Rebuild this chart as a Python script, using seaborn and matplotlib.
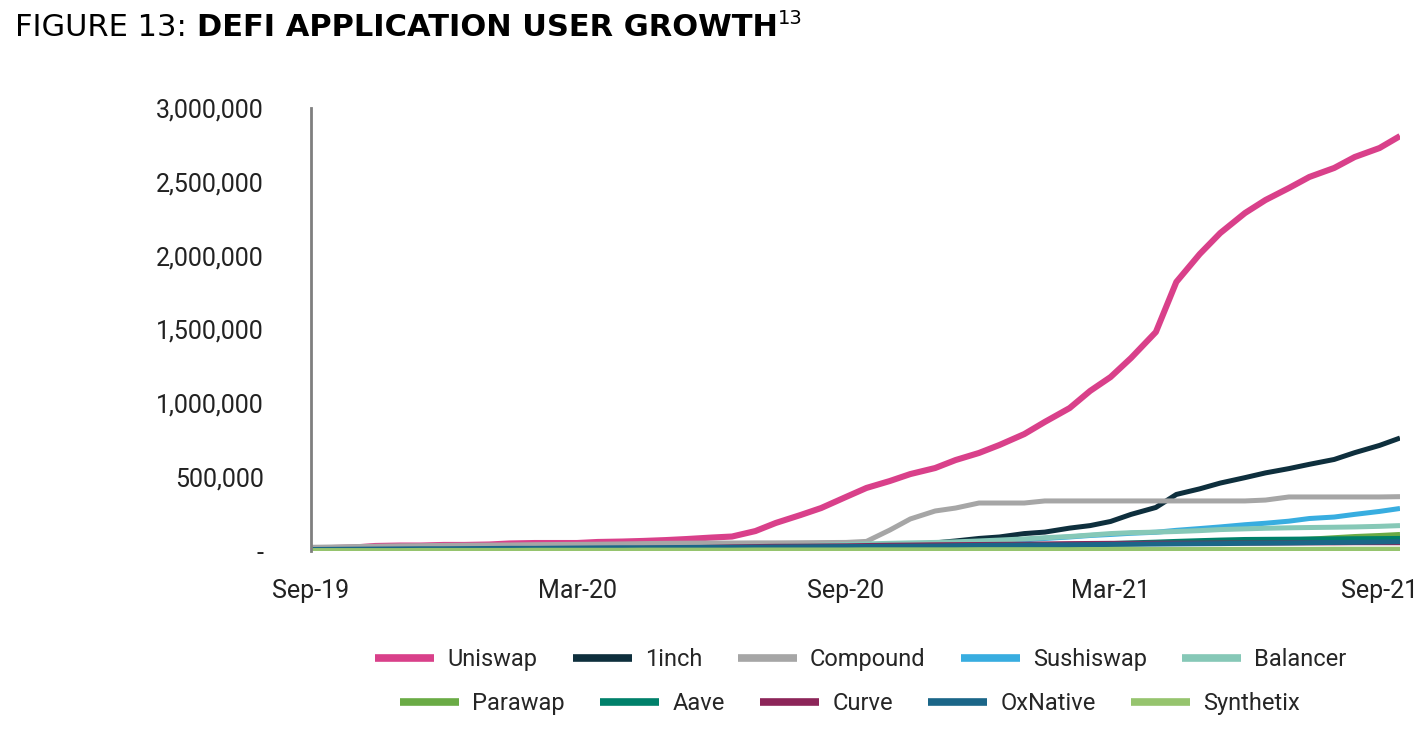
import matplotlib
matplotlib.use("Agg")
import matplotlib.pyplot as plt
import matplotlib.dates as mdates
from matplotlib.lines import Line2D
from matplotlib.ticker import FuncFormatter
import seaborn as sns
import pandas as pd

# ---------------- data ----------------
dates = pd.date_range("2019-09-01", "2021-09-15", freq="SMS")  # 1st and 15th of each month

uniswap = [20000, 20000, 24000, 34000, 37000, 37000, 41000, 41000, 44000, 51000,
           54000, 54000, 54000, 61000, 64000, 68000, 74000, 81000, 91000, 98000,
           135000, 190000, 244000, 291000, 366000, 427000, 474000, 521000, 562000, 616000,
           664000, 718000, 792000, 874000, 968000, 1084000, 1178000, 1307000, 1483000, 1822000,
           2011000, 2153000, 2289000, 2377000, 2458000, 2533000, 2594000, 2668000, 2729000, 2810000]
oneinch = [0, 0, 0, 0, 0, 0, 0, 0, 0, 0,
           0, 0, 0, 0, 0, 0, 0, 0, 0, 0,
           5000, 8000, 10000, 15000, 20000, 25000, 30000, 40000, 55000, 68000,
           85000, 95000, 118000, 128000, 155000, 172000, 200000, 248000, 295000, 383000,
           421000, 460000, 497000, 529000, 558000, 587000, 620000, 666000, 715000, 765000]
compound = [25000, 27000, 30000, 32000, 35000, 36000, 38000, 39000, 40000, 41000,
            43000, 44000, 45000, 46000, 48000, 50000, 52000, 53000, 54000, 54000,
            55000, 55000, 56000, 57000, 58000, 65000, 142000, 217000, 271000, 291000,
            325000, 325000, 325000, 339000, 339000, 339000, 339000, 339000, 339000, 339000,
            339000, 339000, 339000, 345000, 366000, 366000, 366000, 366000, 366000, 368000]
sushiswap = [0, 0, 0, 0, 0, 0, 0, 0, 0, 0,
             0, 0, 0, 0, 0, 0, 0, 0, 0, 0,
             0, 0, 0, 0, 0, 15000, 30000, 40000, 48000, 55000,
             62000, 68000, 75000, 85000, 95000, 105000, 112000, 120000, 127000, 140000,
             152000, 163000, 178000, 188000, 202000, 220000, 230000, 248000, 268000, 288000]
balancer = [0, 0, 0, 0, 0, 0, 0, 0, 0, 0,
            0, 0, 0, 2000, 5000, 8000, 12000, 16000, 20000, 24000,
            28000, 32000, 36000, 40000, 44000, 48000, 52000, 55000, 58000, 62000,
            68000, 74000, 82000, 90000, 98000, 108000, 118000, 124000, 128000, 132000,
            138000, 145000, 150000, 154000, 157000, 159000, 161000, 163000, 167000, 172000]
parawap = [0, 0, 0, 0, 0, 0, 0, 0, 0, 0,
           0, 0, 0, 0, 0, 0, 0, 0, 2000, 4000,
           6000, 8000, 10000, 12000, 14000, 16000, 18000, 20000, 22000, 24000,
           26000, 28000, 30000, 34000, 38000, 42000, 45000, 48000, 52000, 56000,
           60000, 64000, 68000, 72000, 75000, 80000, 90000, 98000, 105000, 112000]
aave = [5000, 5000, 6000, 6000, 7000, 7000, 8000, 8000, 9000, 9000,
        10000, 10000, 11000, 11000, 12000, 12000, 13000, 13000, 14000, 14000,
        15000, 15000, 16000, 16000, 17000, 18000, 19000, 20000, 22000, 24000,
        26000, 28000, 30000, 34000, 38000, 42000, 50000, 55000, 60000, 65000,
        70000, 74000, 78000, 79000, 80000, 81000, 82000, 83000, 84000, 85000]
curve = [2000, 2000, 3000, 3000, 4000, 4000, 5000, 5000, 6000, 6000,
         8000, 10000, 12000, 14000, 16000, 18000, 20000, 22000, 25000, 28000,
         30000, 32000, 33000, 34000, 35000, 37000, 39000, 40000, 42000, 43000,
         44000, 45000, 46000, 48000, 50000, 51000, 52000, 52000, 53000, 53000,
         53000, 54000, 54000, 54000, 55000, 55000, 55000, 56000, 56000, 56000]
oxnative = [10000, 11000, 12000, 13000, 14000, 15000, 15000, 16000, 17000, 18000,
            18000, 19000, 20000, 21000, 22000, 22000, 23000, 24000, 25000, 25000,
            26000, 27000, 28000, 29000, 30000, 31000, 32000, 33000, 34000, 36000,
            38000, 39000, 40000, 41000, 42000, 43000, 45000, 46000, 47000, 48000,
            49000, 50000, 52000, 53000, 54000, 56000, 58000, 59000, 61000, 63000]
synthetix = [3000, 3000, 3000, 3000, 3000, 4000, 4000, 4000, 4000, 4000,
             5000, 5000, 5000, 5000, 5000, 6000, 6000, 6000, 6000, 6000,
             7000, 7000, 7000, 7000, 7000, 8000, 8000, 8000, 8000, 8000,
             9000, 9000, 9000, 9000, 9000, 10000, 10000, 10000, 10000, 10000,
             10000, 11000, 11000, 11000, 11000, 11000, 12000, 12000, 12000, 12000]

apps = ["Uniswap", "1inch", "Compound", "Sushiswap", "Balancer",
        "Parawap", "Aave", "Curve", "OxNative", "Synthetix"]
colors = ["#d9408a", "#0e2f3d", "#a6a6a6", "#38ade0", "#86c8b7",
          "#6aab45", "#00806a", "#8c2559", "#1b6688", "#96c46e"]
yticks = [0, 500000, 1000000, 1500000, 2000000, 2500000, 3000000]
xticks = ["2019-09-01", "2020-03-01", "2020-09-01", "2021-03-01", "2021-09-01"]

series = [uniswap, oneinch, compound, sushiswap, balancer,
          parawap, aave, curve, oxnative, synthetix]
wide = pd.DataFrame({"date": dates})
for name, vals in zip(apps, series):
    wide[name] = vals
df = wide.melt(id_vars="date", var_name="app", value_name="users")

# ---------------- plotting ----------------
sns.set_theme(style="white")
plt.rcParams["font.family"] = ["Roboto", "DejaVu Sans"]

fig = plt.figure(figsize=(14.28, 7.42), dpi=100)
ax = fig.add_axes([311 / 1428, 1 - 551 / 742, (1400 - 311) / 1428, 443 / 742])

palette = dict(zip(apps, colors))
sns.lineplot(data=df, x="date", y="users", hue="app", hue_order=apps,
             palette=palette, linewidth=3.6, legend=False, ax=ax)
ax.lines[0].set_linewidth(4.4)
for ln in ax.lines:
    ln.set_solid_capstyle("butt")

ax.set_xlim(dates[0], dates[-1])
ax.set_ylim(0, 3000000)
ax.set_yticks(yticks)
ax.yaxis.set_major_formatter(FuncFormatter(lambda v, p: "-" if v == 0 else f"{v:,.0f}"))
ax.set_xticks(pd.to_datetime(xticks))
ax.xaxis.set_major_formatter(mdates.DateFormatter("%b-%y"))
ax.set_xlabel("")
ax.set_ylabel("")
ax.tick_params(axis="y", length=0, pad=34, labelsize=18, labelcolor="#222222")
ax.tick_params(axis="x", length=0, pad=20, labelsize=18, labelcolor="#222222")

for s in ["top", "right", "bottom"]:
    ax.spines[s].set_visible(False)
ax.spines["left"].set_color("#7f7f7f")
ax.spines["left"].set_linewidth(2)

# legend in two rows of five
handles = [Line2D([0], [0], color=c, lw=5.5, solid_capstyle="butt") for c in colors]
leg_kw = dict(loc="center", ncol=5, frameon=False, fontsize=17, handlelength=2.5,
              handletextpad=0.55, columnspacing=1.5)
leg1 = ax.legend(handles[:5], apps[:5], bbox_to_anchor=(0.505, -0.246), **leg_kw)
ax.add_artist(leg1)
ax.legend(handles[5:], apps[5:], bbox_to_anchor=(0.495, -0.345), **leg_kw)

# title with mixed weights
fig.canvas.draw()
r = fig.canvas.get_renderer()
t1 = fig.text(15 / 1428, 1 - 36 / 742, "FIGURE 13: ", fontsize=22,
              family="DejaVu Sans", color="black")
bb = t1.get_window_extent(r)
t2 = fig.text(bb.x1 / 1428, 1 - 36 / 742, "DEFI APPLICATION USER GROWTH",
              fontsize=22, family="DejaVu Sans", weight="bold", color="black")
bb2 = t2.get_window_extent(r)
fig.text(bb2.x1 / 1428 + 0.0005, 1 - 24 / 742, "13", fontsize=14,
         family="DejaVu Sans", color="black")

fig.savefig("out.png", dpi=100)
